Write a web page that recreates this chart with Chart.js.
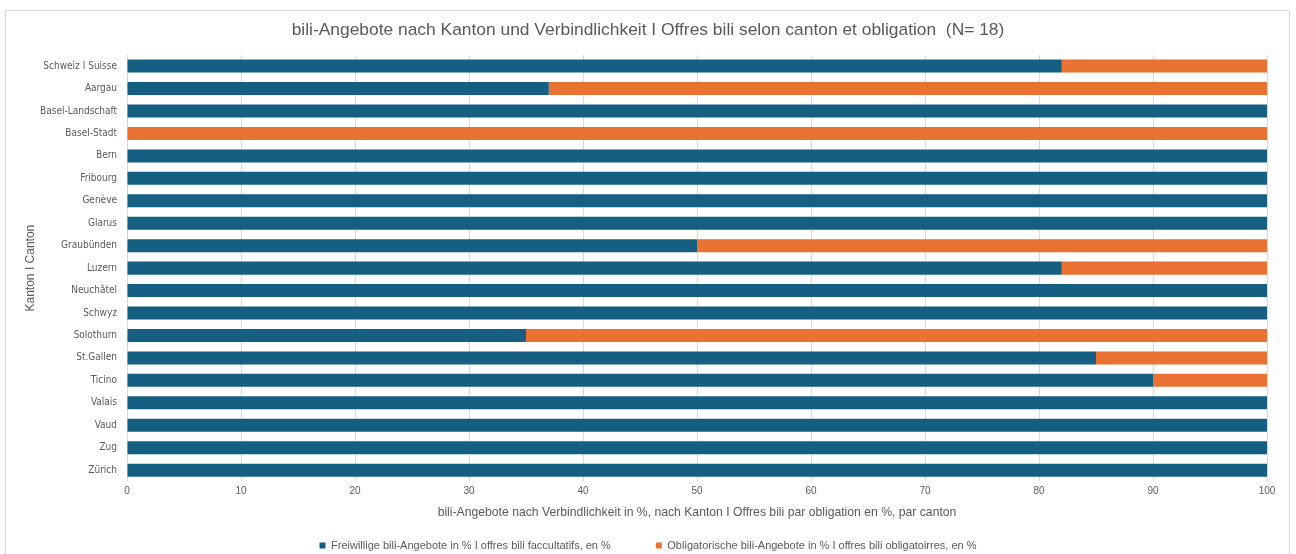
<!DOCTYPE html>
<html>
<head>
<meta charset="utf-8">
<script src="https://cdn.jsdelivr.net/npm/chart.js@4.4.1/dist/chart.umd.min.js"></script>
<style>
  html, body { margin: 0; padding: 0; background: #fff; overflow: hidden; width: 1296px; height: 554px; }
  #rahmen { position: absolute; left: 5px; top: 10px; width: 1283px; height: 600px; border: 1px solid #d9d9d9; }
  #myChart { position: absolute; left: 0; top: 0; }
</style>
</head>
<body>
<div id="rahmen"></div>
<canvas id="myChart" width="1296" height="561"></canvas>
<script>
const kantone = ['Schweiz I Suisse', 'Aargau', 'Basel-Landschaft', 'Basel-Stadt', 'Bern', 'Fribourg', 'Genève',
    'Glarus', 'Graubünden', 'Luzern', 'Neuchâtel', 'Schwyz', 'Solothurn', 'St.Gallen', 'Ticino', 'Valais',
    'Vaud', 'Zug', 'Zürich'];

const freiwillig = [82, 37, 100, 0, 100, 100, 100, 100, 50, 82, 100, 100, 35, 85, 90, 100, 100, 100, 100];
const obligatorisch = [18, 63, 0, 100, 0, 0, 0, 0, 50, 18, 0, 0, 65, 15, 10, 0, 0, 0, 0];

const xTicks = [0, 10, 20, 30, 40, 50, 60, 70, 80, 90, 100];

const grau = '#595959';

const datasets = [
    {
        label: 'Freiwillige bili-Angebote in % I offres bili faccultatifs, en %',
        data: freiwillig,
        backgroundColor: '#156082',
    },
    {
        label: 'Obligatorische bili-Angebote in % I offres bili obligatoirres, en %',
        data: obligatorisch,
        backgroundColor: '#e97132',
    },
];

const config = {
    type: 'bar',
    data: { labels: kantone, datasets },
    options: {
        indexAxis: 'y',
        responsive: false,
        animation: false,
        datasets: {
            bar: { categoryPercentage: 1, barPercentage: 0.58 }
        },
        layout: { padding: 0 },
        scales: {
            x: {
                stacked: true,
                min: 0,
                max: 100,
                afterBuildTicks: (s) => { s.ticks = xTicks.map(v => ({ value: v })); },
                grid: { color: '#d9d9d9', drawTicks: false },
                border: { display: false },
                ticks: { color: grau, padding: 4, font: { family: 'Liberation Sans', size: 10 } },
                title: {
                    display: true,
                    text: 'bili-Angebote nach Verbindlichkeit in %, nach Kanton I Offres bili par obligation en %, par canton',
                    color: grau,
                    font: { family: 'Liberation Sans', size: 12.2 },
                    padding: { top: 4, bottom: -25 }
                }
            },
            y: {
                stacked: true,
                afterFit: (s) => { s.width = 127; },
                grid: { display: false },
                border: { display: false },
                ticks: { color: grau, padding: 2, font: { family: "'Liberation Sans Narrow', 'DejaVu Sans Condensed', sans-serif", size: 10 } },
                title: {
                    display: true,
                    text: 'Kanton I Canton',
                    color: grau,
                    font: { family: 'Liberation Sans', size: 12 },
                    padding: { top: 23, bottom: 0 }
                }
            },
            // leerer Rand rechts, damit Titel und Legende mittig bleiben
            rechts: {
                type: 'category',
                position: 'right',
                afterFit: (s) => { s.width = 29; },
                grid: { display: false },
                border: { display: false },
                ticks: { display: false }
            }
        },
        plugins: {
            title: {
                display: true,
                text: 'bili-Angebote nach Kanton und Verbindlichkeit I Offres bili selon canton et obligation  (N= 18)',
                color: grau,
                font: { family: 'Liberation Sans', size: 17.4, weight: 'normal' },
                padding: { top: 20, bottom: 14 }
            },
            legend: {
                position: 'bottom',
                labels: {
                    color: grau,
                    boxWidth: 6,
                    boxHeight: 6,
                    padding: 45,
                    font: { family: 'Liberation Sans', size: 11 }
                }
            },
            tooltip: { enabled: false }
        }
    }
};

new Chart(document.querySelector('#myChart'), config);
</script>
</body>
</html>
